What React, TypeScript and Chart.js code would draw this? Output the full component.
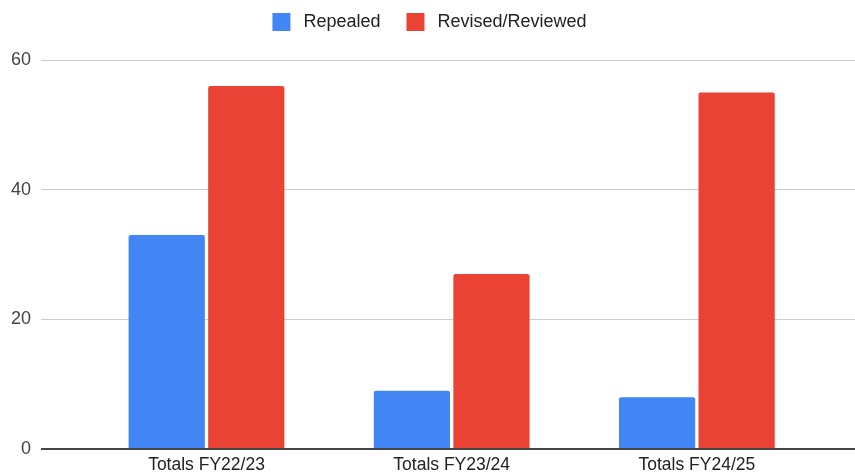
import React, { useEffect, useRef } from 'react';
import { Chart, registerables } from 'chart.js';

Chart.register(...registerables);

const categories = ['Totals FY22/23', 'Totals FY23/24', 'Totals FY24/25'];
const seriesNames = ['Repealed', 'Revised/Reviewed'];
const repealed = [33, 9, 8];
const revisedReviewed = [56, 27, 55];
const yMin = 0;
const yMax = 60;
const yStep = 20;

const FONT = "'Liberation Sans', Arial, sans-serif";

export default function App() {
  const ref = useRef<HTMLCanvasElement>(null);

  useEffect(() => {
    document.body.style.margin = '0';
    const canvas = ref.current;
    if (!canvas) return;

    const legendSpacing = {
      id: 'legendSpacing',
      beforeLayout(chart: any) {
        const lg = chart.legend;
        if (lg && !lg._patchedFit) {
          const orig = lg.fit;
          lg.fit = function () {
            orig.call(this);
            this.height = 73;
          };
          lg._patchedFit = true;
        }
      },
    };

    const chart = new Chart(canvas, {
      type: 'bar',
      data: {
        datasets: [
          {
            label: seriesNames[0],
            data: repealed.map((v, i) => ({ x: i, y: v })),
            backgroundColor: '#4285F4',
            borderWidth: 0,
            borderRadius: 2,
          },
          {
            label: seriesNames[1],
            data: revisedReviewed.map((v, i) => ({ x: i, y: v })),
            backgroundColor: '#EA4335',
            borderWidth: 0,
            borderRadius: 2,
          },
        ],
      },
      options: {
        responsive: false,
        animation: false,
        devicePixelRatio: 1,
        categoryPercentage: 0.649,
        barPercentage: 0.958,
        layout: { padding: { top: -13, left: 0, right: 0, bottom: 0 } },
        plugins: {
          tooltip: { enabled: false },
          legend: {
            position: 'top',
            align: 'center',
            labels: {
              boxWidth: 26,
              boxHeight: 26,
              padding: 22,
              color: '#222222',
              font: { family: FONT, size: 18 },
              generateLabels(ch: any) {
                const items = (Chart.defaults.plugins.legend.labels as any).generateLabels(ch);
                return items.map((it: any) => ({ ...it, lineWidth: 8, strokeStyle: '#ffffff' }));
              },
            },
          },
        },
        scales: {
          x: {
            type: 'linear',
            offset: false,
            min: -0.675,
            max: 2.645,
            grid: { display: false, drawTicks: false },
            border: { display: false },
            afterBuildTicks(scale: any) {
              scale.ticks = categories.map((_, i) => ({ value: i }));
            },
            afterFit(scale: any) {
              scale.height = 25;
            },
            ticks: {
              autoSkip: false,
              maxRotation: 0,
              padding: 6,
              color: '#222222',
              font: { family: FONT, size: 17.5 },
              callback: (v: any) => categories[v as number] ?? '',
            },
          },
          y: {
            min: yMin,
            max: yMax,
            border: { display: false },
            grid: {
              drawTicks: false,
              lineWidth: (ctx: any) => (ctx.tick && ctx.tick.value === 0 ? 2 : 1),
              color: (ctx: any) => (ctx.tick && ctx.tick.value === 0 ? '#444444' : '#cccccc'),
            },
            afterFit(scale: any) {
              scale.width = 41;
            },
            ticks: {
              stepSize: yStep,
              padding: 10,
              color: '#444444',
              font: { family: FONT, size: 18 },
            },
          },
        },
      },
      plugins: [legendSpacing],
    } as any);

    return () => chart.destroy();
  }, []);

  return <canvas ref={ref} width={855} height={474} style={{ display: 'block' }} />;
}
